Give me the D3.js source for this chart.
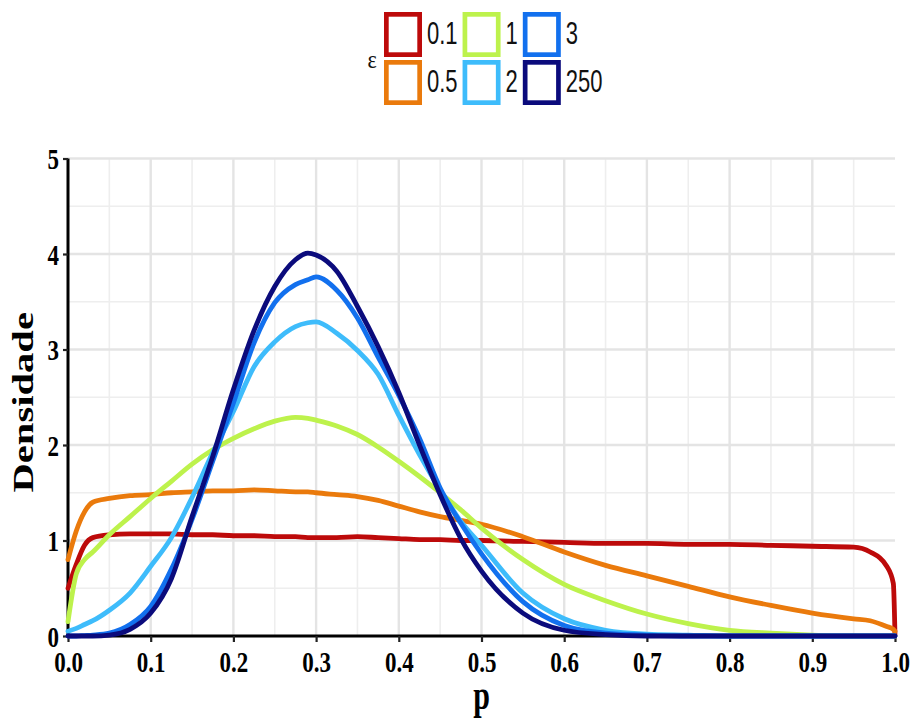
<!DOCTYPE html>
<html>
<head>
<meta charset="utf-8">
<script src="https://cdn.jsdelivr.net/npm/d3@7/dist/d3.min.js"></script>
<style>
  body { margin: 0; background: #fff; }
</style>
</head>
<body>
<div id="chart"></div>
<script>
var width  = 914;
var height = 725;
var margin = {top: 158.5, right: 19, bottom: 89, left: 68};

// p positions shared by all curves
var pGrid = [0, 0.01, 0.02, 0.03, 0.05, 0.075, 0.1, 0.125, 0.15, 0.175, 0.2, 0.225, 0.25, 0.275, 0.29, 0.3,
             0.325, 0.35, 0.375, 0.4, 0.425, 0.45, 0.475, 0.5, 0.55, 0.6, 0.65, 0.7, 0.75, 0.8, 0.85, 0.9,
             0.95, 0.97, 0.99, 0.998, 1.0];

var dens01  = [0.5, 0.75, 0.95, 1.03, 1.06, 1.07, 1.07, 1.07, 1.06, 1.06, 1.05, 1.05, 1.04, 1.04, 1.03, 1.03,
               1.03, 1.04, 1.03, 1.02, 1.01, 1.01, 1.0, 1.0, 0.99, 0.98, 0.97, 0.97, 0.96, 0.96, 0.95, 0.94,
               0.93, 0.88, 0.73, 0.55, 0];
var dens05  = [0.8, 1.1, 1.3, 1.4, 1.44, 1.47, 1.48, 1.5, 1.51, 1.52, 1.52, 1.53, 1.52, 1.51, 1.51, 1.5,
               1.48, 1.46, 1.42, 1.36, 1.3, 1.25, 1.21, 1.17, 1.04, 0.88, 0.74, 0.63, 0.52, 0.41, 0.32, 0.24,
               0.18, 0.16, 0.1, 0.07, 0.05];
var dens1   = [0.15, 0.65, 0.8, 0.88, 1.06, 1.25, 1.44, 1.62, 1.8, 1.95, 2.07, 2.17, 2.25, 2.29, 2.28, 2.26,
               2.2, 2.11, 1.98, 1.83, 1.67, 1.5, 1.32, 1.13, 0.8, 0.54, 0.37, 0.23, 0.13, 0.06, 0.03, 0.01,
               0, 0, 0, 0, 0];
var dens2   = [0.05, 0.08, 0.12, 0.16, 0.27, 0.45, 0.73, 1.03, 1.45, 1.92, 2.35, 2.82, 3.08, 3.24, 3.28, 3.29,
               3.17, 2.99, 2.74, 2.31, 1.9, 1.53, 1.2, 0.95, 0.45, 0.18, 0.06, 0.02, 0.01, 0, 0, 0,
               0, 0, 0, 0, 0];
var dens3   = [0, 0, 0.005, 0.01, 0.03, 0.12, 0.31, 0.7, 1.22, 1.83, 2.44, 3.07, 3.49, 3.68, 3.73, 3.76,
               3.62, 3.33, 2.92, 2.52, 2.07, 1.55, 1.18, 0.86, 0.36, 0.11, 0.03, 0.01, 0, 0, 0, 0,
               0, 0, 0, 0, 0];
var dens250 = [0, 0, 0, 0, 0.01, 0.07, 0.24, 0.6, 1.25, 1.88, 2.58, 3.2, 3.66, 3.94, 4.01, 3.99,
               3.82, 3.45, 3.03, 2.55, 2.0, 1.48, 1.02, 0.68, 0.24, 0.06, 0.015, 0, 0, 0, 0, 0,
               0, 0, 0, 0, 0];

var epsLabels = ["0.1", "0.5", "1", "2", "3", "250"];
var epsColors = ["#bd0a0a", "#ea7a0c", "#bdf24c", "#3ebcfb", "#1270ee", "#0b0b7c"];
var allDens   = [dens01, dens05, dens1, dens2, dens3, dens250];

var xTicks = [0, 0.1, 0.2, 0.3, 0.4, 0.5, 0.6, 0.7, 0.8, 0.9, 1.0];
var yTicks = [0, 1, 2, 3, 4, 5];
var xMinor = d3.range(0.05, 1.0, 0.1);
var yMinor = [0.5, 1.5, 2.5, 3.5, 4.5];

var x = d3.scaleLinear().domain([0, 1]).range([margin.left, width - margin.right]);
var y = d3.scaleLinear().domain([0, 5]).range([height - margin.bottom, margin.top]);

var svg = d3.select("#chart").append("svg")
    .attr("width", width)
    .attr("height", height);

// grid
var grid = svg.append("g").attr("class", "grid");
grid.selectAll(".vminor").data(xMinor).enter().append("line")
    .attr("x1", function(d) { return x(d); }).attr("x2", function(d) { return x(d); })
    .attr("y1", y(0)).attr("y2", y(5))
    .attr("stroke", "#eeeeee").attr("stroke-width", 1.6);
grid.selectAll(".hminor").data(yMinor).enter().append("line")
    .attr("x1", x(0)).attr("x2", x(1))
    .attr("y1", function(d) { return y(d); }).attr("y2", function(d) { return y(d); })
    .attr("stroke", "#eeeeee").attr("stroke-width", 1.6);
grid.selectAll(".vmajor").data(xTicks.slice(1, -1)).enter().append("line")
    .attr("x1", function(d) { return x(d); }).attr("x2", function(d) { return x(d); })
    .attr("y1", y(0)).attr("y2", y(5))
    .attr("stroke", "#e4e4e4").attr("stroke-width", 2.4);
grid.selectAll(".hmajor").data(yTicks.slice(1)).enter().append("line")
    .attr("x1", x(0)).attr("x2", x(1))
    .attr("y1", function(d) { return y(d); }).attr("y2", function(d) { return y(d); })
    .attr("stroke", "#e4e4e4").attr("stroke-width", 2.4);

// axes
var xAxis = d3.axisBottom(x).tickValues(xTicks).tickSize(6).tickFormat(d3.format(".1f"));
var yAxis = d3.axisLeft(y).tickValues(yTicks).tickSize(5).tickFormat(d3.format("d"));

var gx = svg.append("g")
    .attr("transform", "translate(0," + y(0) + ")")
    .call(xAxis);
var gy = svg.append("g")
    .attr("transform", "translate(" + x(0) + ",0)")
    .call(yAxis);

[gx, gy].forEach(function(g) {
  g.select(".domain").attr("stroke", "#000").attr("stroke-width", 3);
  g.selectAll(".tick line").attr("stroke", "#222").attr("stroke-width", 2.2);
  g.selectAll(".tick text")
    .attr("fill", "#000")
    .style("font-family", "'Liberation Serif', 'Times New Roman', serif")
    .style("font-weight", "bold")
    .style("font-size", "23px");
});
gx.select(".domain").attr("d", "M" + x(0) + ",0H" + x(1));
gy.select(".domain").attr("d", "M0," + y(0) + "V" + y(5));

gx.selectAll(".tick text")
    .attr("y", 0).attr("dy", null)
    .attr("transform", "translate(0,36) scale(1,1.3)");
gy.selectAll(".tick text")
    .attr("x", 0).attr("dy", null)
    .attr("transform", "translate(-9,10) scale(1,1.3)");

// axis titles
svg.append("text")
    .attr("transform", "translate(" + ((x(0) + x(1)) / 2) + ",709) scale(1,1.35)")
    .attr("text-anchor", "middle")
    .style("font-family", "'Liberation Serif', 'Times New Roman', serif")
    .style("font-weight", "bold")
    .style("font-size", "30px")
    .text("p");

svg.append("text")
    .attr("transform", "translate(33," + ((y(0) + y(5)) / 2 + 5) + ") rotate(-90) scale(1.4,1)")
    .attr("text-anchor", "middle")
    .style("font-family", "'Liberation Serif', 'Times New Roman', serif")
    .style("font-weight", "bold")
    .style("font-size", "29px")
    .text("Densidade");

// density curves
var line = d3.line()
    .curve(d3.curveMonotoneX)
    .x(function(d) { return x(d[0]); })
    .y(function(d) { return y(d[1]); });

svg.append("g").selectAll("path")
    .data(allDens)
    .enter().append("path")
    .attr("d", function(vals) { return line(pGrid.map(function(p, i) { return [p, vals[i]]; })); })
    .attr("fill", "none")
    .attr("stroke", function(d, i) { return epsColors[i]; })
    .attr("stroke-width", 4.8)
    .attr("stroke-linejoin", "round")
    .attr("stroke-linecap", "round");

// legend
var legend = svg.append("g").attr("class", "legend");
legend.append("text")
    .attr("transform", "translate(372,68) scale(1,1.15)")
    .attr("text-anchor", "middle")
    .style("font-family", "'Liberation Serif', 'Times New Roman', serif")
    .style("font-size", "22px")
    .attr("fill", "#111")
    .text("ε");

var keyW = 38, keyH = 45, rowStep = 48, stroke = 4.7;
var colX = 384, legTop = 12;
for (var c = 0; c < 3; c++) {
  var maxW = 0;
  for (var r = 0; r < 2; r++) {
    var idx = c * 2 + r;
    var ky = legTop + r * rowStep;
    legend.append("rect")
        .attr("x", colX + stroke / 2)
        .attr("y", ky + stroke / 2)
        .attr("width", keyW - stroke)
        .attr("height", keyH - stroke)
        .attr("fill", "#fff")
        .attr("stroke", epsColors[idx])
        .attr("stroke-width", stroke);
    var t = legend.append("text")
        .attr("transform", "translate(" + (colX + keyW + 5) + "," + (ky + 31.5) + ") scale(1,1.4)")
        .style("font-family", "'Liberation Sans', Arial, sans-serif")
        .style("font-size", "22px")
        .attr("fill", "#111")
        .text(epsLabels[idx]);
    maxW = Math.max(maxW, t.node().getComputedTextLength());
  }
  colX = colX + keyW + 5 + maxW + 5;
}
</script>
</body>
</html>
